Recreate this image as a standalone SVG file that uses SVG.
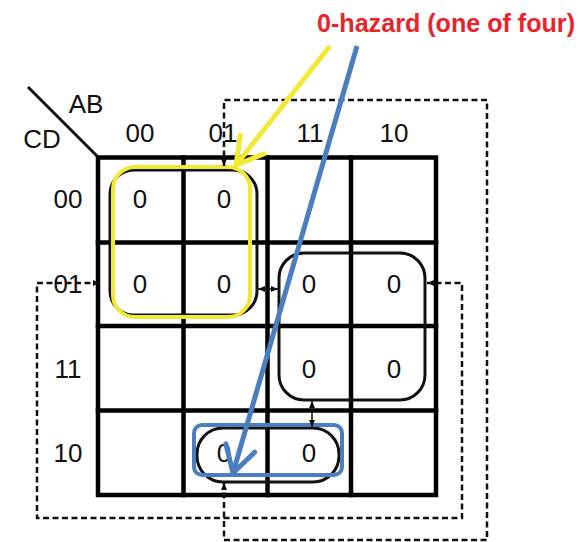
<svg xmlns="http://www.w3.org/2000/svg" width="587" height="542" viewBox="0 0 587 542">
  <style>
    .lbl { font-family: "Liberation Sans", Arial, sans-serif; font-size: 26px; fill: #111; text-anchor: middle; }
    .cell { font-family: "Liberation Sans", Arial, sans-serif; font-size: 26px; fill: #111; text-anchor: middle; }
    .title { font-family: "Liberation Sans", Arial, sans-serif; font-size: 26px; font-weight: bold; fill: #e8232a; }
    .grid { stroke: #000; stroke-width: 4.5; fill: none; stroke-linecap: square; }
    .loop { fill: none; stroke: #111; stroke-width: 3; }
    .dash { fill: none; stroke: #111; stroke-width: 2.5; stroke-dasharray: 6 3.5; }
    .tick { fill: none; stroke: #111; stroke-width: 1.5; }
  </style>
  <defs>
    <marker id="tri" markerUnits="userSpaceOnUse" viewBox="0 0 7 6" refX="7" refY="3" markerWidth="7" markerHeight="6" orient="auto-start-reverse">
      <path d="M0,0 L7,3 L0,6 z" fill="#111"/>
    </marker>
    <marker id="openY" markerUnits="userSpaceOnUse" viewBox="-30 -20 34 40" refX="0" refY="0" markerWidth="34" markerHeight="40" orient="auto">
      <path d="M-26,-15 L0,0 L-26,15" fill="none" stroke="#f2e836" stroke-width="5" stroke-linejoin="round" stroke-linecap="round"/>
    </marker>
    <marker id="openB" markerUnits="userSpaceOnUse" viewBox="-30 -20 34 40" refX="0" refY="0" markerWidth="34" markerHeight="40" orient="auto">
      <path d="M-26,-15 L0,0 L-26,15" fill="none" stroke="#4a7ebf" stroke-width="5" stroke-linejoin="round" stroke-linecap="round"/>
    </marker>
  </defs>

  <rect width="587" height="542" fill="#fff"/>

  <!-- title -->
  <text id="title" class="title" x="317" y="32" textLength="258" lengthAdjust="spacingAndGlyphs">0-hazard (one of four)</text>

  <!-- corner header -->
  <g id="corner">
    <line x1="28" y1="87" x2="98" y2="157" stroke="#111" stroke-width="3"/>
    <text class="lbl" x="86" y="113">AB</text>
    <text class="lbl" x="42" y="148">CD</text>
  </g>

  <!-- column / row labels -->
  <g id="col-labels">
    <text class="lbl" x="140" y="142">00</text>
    <text class="lbl" x="223" y="142">01</text>
    <text class="lbl" x="310" y="142">11</text>
    <text class="lbl" x="394" y="142">10</text>
  </g>
  <g id="row-labels">
    <text class="lbl" x="68" y="208">00</text>
    <text class="lbl" x="68" y="293">01</text>
    <text class="lbl" x="68" y="378">11</text>
    <text class="lbl" x="68" y="462">10</text>
  </g>

  <!-- map grid -->
  <g id="grid" class="grid">
    <rect x="98" y="157.5" width="338" height="337.5"/>
    <line x1="183.5" y1="157.5" x2="183.5" y2="495"/>
    <line x1="267.5" y1="157.5" x2="267.5" y2="495"/>
    <line x1="351" y1="157.5" x2="351" y2="495"/>
    <line x1="98" y1="242.5" x2="436" y2="242.5"/>
    <line x1="98" y1="326" x2="436" y2="326"/>
    <line x1="98" y1="410.5" x2="436" y2="410.5"/>
  </g>

  <!-- cell values -->
  <g id="cells">
    <text class="cell" x="140" y="208">0</text>
    <text class="cell" x="224" y="208">0</text>
    <text class="cell" x="140" y="293">0</text>
    <text class="cell" x="224" y="293">0</text>
    <text class="cell" x="309" y="293">0</text>
    <text class="cell" x="394" y="293">0</text>
    <text class="cell" x="309" y="378">0</text>
    <text class="cell" x="394" y="378">0</text>
    <text class="cell" x="224" y="462">0</text>
    <text class="cell" x="309" y="462">0</text>
  </g>

  <!-- groupings -->
  <g id="loop-left">
    <rect class="loop" x="110" y="170" width="147" height="145" rx="24"/>
  </g>
  <g id="loop-right">
    <rect class="loop" x="279" y="253" width="146" height="147" rx="25"/>
  </g>
  <g id="loop-bottom">
    <rect class="loop" x="197" y="428" width="142" height="54" rx="26"/>
  </g>
  <g id="loop-yellow">
    <rect x="113" y="167" width="137" height="150" rx="22" fill="none" stroke="#f2e836" stroke-width="4"/>
  </g>
  <g id="loop-blue">
    <rect x="194" y="425" width="148" height="50" rx="8" fill="none" stroke="#4a7ebf" stroke-width="4"/>
  </g>

  <!-- connectors -->
  <g id="connectors">
    <path class="dash" d="M224,166 V100 H487 V540 H224 V483" marker-start="url(#tri)" marker-end="url(#tri)"/>
    <path class="dash" d="M100,283 H37 V518 H462 V283 H427" marker-start="url(#tri)" marker-end="url(#tri)"/>
    <path class="tick" d="M258,289 H278" marker-start="url(#tri)" marker-end="url(#tri)"/>
    <path class="tick" d="M312,401 V427" marker-start="url(#tri)" marker-end="url(#tri)"/>
    <line x1="330" y1="46" x2="236" y2="165" stroke="#f2e836" stroke-width="5" marker-end="url(#openY)"/>
    <line x1="357" y1="46" x2="233" y2="473" stroke="#4a7ebf" stroke-width="5" marker-end="url(#openB)"/>
  </g>
</svg>
